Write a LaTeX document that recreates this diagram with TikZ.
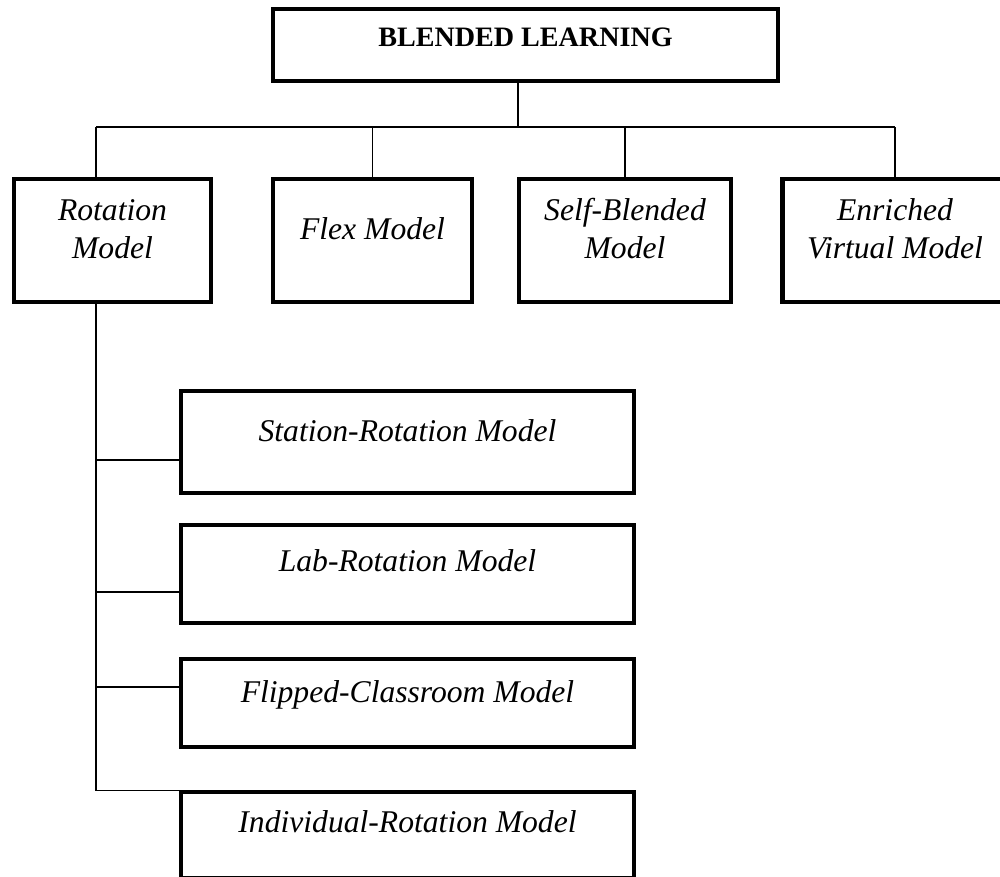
\documentclass[tikz,border=0pt]{standalone}
\usepackage{fontspec}
\setmainfont{Liberation Serif}
\usepackage{tikz}
\usetikzlibrary{positioning,calc}

\begin{document}
\begin{tikzpicture}[x=0.02cm, y=-0.02cm,
        model/.style={draw, line width=2.3pt, inner sep=0pt, align=center,
            font=\fontsize{18}{22}\selectfont\itshape},
        toprow/.style={model, text height=45.4pt, text depth=24.4pt},
        link/.style={line width=0.6pt}]
        \useasboundingbox (0,0) rectangle (1000,876);
        \node[model, font=\fontsize{16}{19}\selectfont\bfseries, minimum width=287.4pt, text height=21.5pt, text depth=19.3pt] (blended) at (525.5,45) {BLENDED LEARNING};
        \node[toprow, minimum width=111.7pt] (rotation) at (112.5,240.5) {Rotation\\Model};
        \node[model, minimum width=112.8pt, text height=34pt, text depth=35.7pt] (flex) at (372.5,240.5) {Flex Model};
        \node[toprow, minimum width=120.2pt] (selfblend) at (625,240.5) {Self-Blended\\Model};
        \node[toprow, minimum width=128.1pt] (enriched) at (895,240.5) {Enriched\\Virtual Model};
        \node[model, minimum width=257.9pt, text height=28.6pt, text depth=29.2pt] (station) at (407.5,442) {Station-Rotation Model};
        \node[model, minimum width=257.9pt, text height=26.6pt, text depth=28.9pt] (lab) at (407.5,574) {Lab-Rotation Model};
        \node[model, minimum width=257.9pt, text height=24.4pt, text depth=25.5pt] (flipped) at (407.5,703) {Flipped-Classroom Model};
        \node[model, minimum width=257.9pt, text height=22.7pt, text depth=26.1pt] (individual) at (407.5,835) {Individual-Rotation Model};
        % tree lines
        \coordinate (bus) at (518,127);
        \coordinate (trunk) at (96,127);
        \draw[link] (blended.south -| bus) -- (bus);
        \draw[link] (trunk) -- (bus -| enriched.north);
        \draw[link] (trunk) -- (trunk |- rotation.north);
        \draw[link] (flex.north) -- (flex.north |- bus);
        \draw[link] (selfblend.north) -- (selfblend.north |- bus);
        \draw[link] (enriched.north) -- (enriched.north |- bus);
        % rotation sub-models
        \coordinate (b1) at (96,460);
        \coordinate (b2) at (96,592);
        \coordinate (b3) at (96,687);
        \draw[link] (trunk |- rotation.south) |- (individual.north west);
        \draw[link] (b1) -- (b1 -| station.west);
        \draw[link] (b2) -- (b2 -| lab.west);
        \draw[link] (b3) -- (b3 -| flipped.west);
\end{tikzpicture}
\end{document}
